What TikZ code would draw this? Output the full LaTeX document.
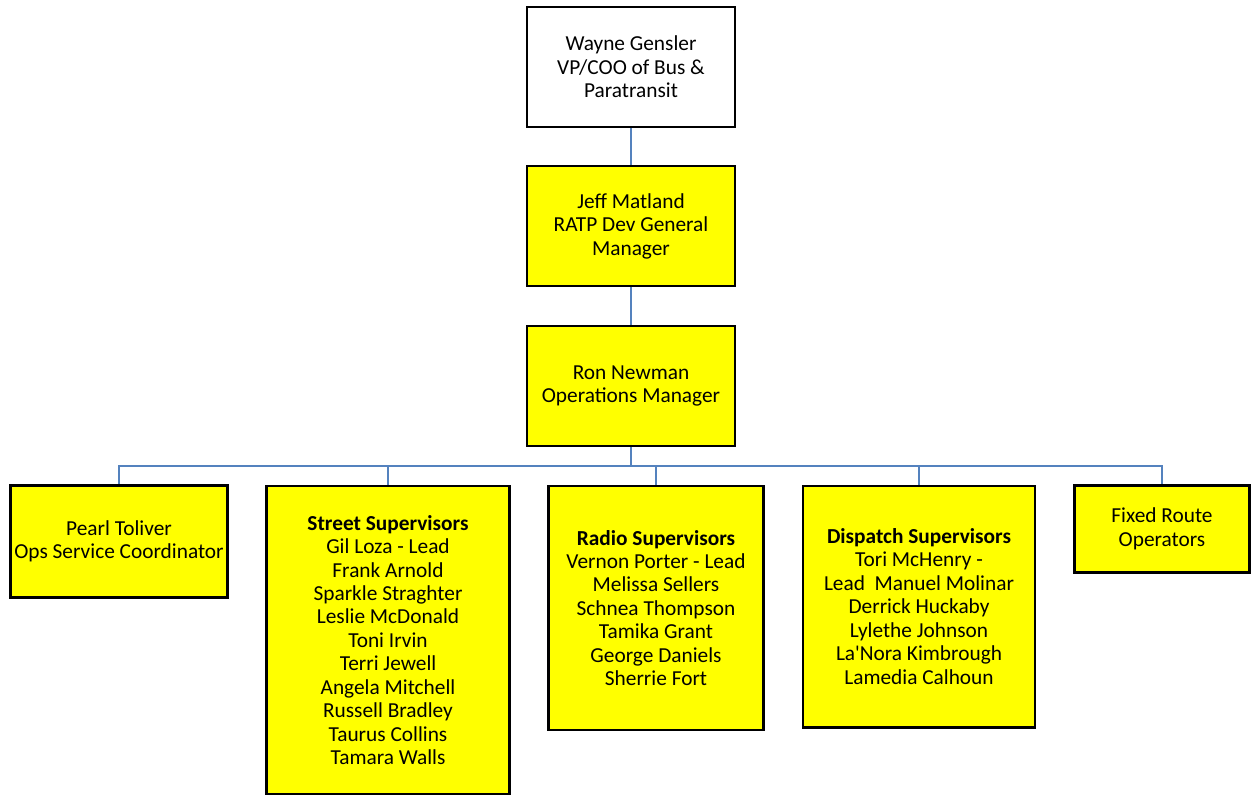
\documentclass[tikz,border=0pt]{standalone}
\usepackage{fontspec}
\setmainfont{Carlito}
\definecolor{linkblue}{RGB}{84,130,190}
\definecolor{boxyellow}{RGB}{255,255,0}
\begin{document}
\begin{tikzpicture}[
        x=0.75pt, y=-0.75pt,
        box/.style={draw, line width=2pt, fill=boxyellow, align=center, inner sep=0pt,
          font=\fontsize{16}{17.6}\selectfont},
        link/.style={draw=linkblue, line width=1.7pt}
      ]
      \useasboundingbox (0,0) rectangle (1252,796);
      % top of the chart
      \node[box, fill=white, minimum width=156pt, minimum height=90pt] (wayne) at (631,67) {Wayne Gensler\\VP/COO of Bus \&\\Paratransit};
      \node[box, minimum width=156pt, minimum height=90pt] (jeff) at (631,226) {Jeff Matland\\RATP Dev General\\Manager};
      \node[box, minimum width=156pt, minimum height=90pt] (ron) at (631,386) {Ron Newman\\Operations Manager};

      % teams
      \node[box, minimum width=163pt, minimum height=84pt] (pearl) at (119,541.5) {Pearl Toliver\\Ops Service Coordinator};
      \node[box, minimum width=182pt, minimum height=231pt] (street) at (388,640) {\textbf{Street Supervisors}\\Gil Loza - Lead\\Frank Arnold\\Sparkle Straghter\\Leslie McDonald\\Toni Irvin\\Terri Jewell\\Angela Mitchell\\Russell Bradley\\Taurus Collins\\Tamara Walls};
      \node[box, minimum width=161pt, minimum height=183pt] (radio) at (656,608) {\textbf{Radio Supervisors}\\Vernon Porter - Lead\\Melissa Sellers\\Schnea Thompson\\Tamika Grant\\George Daniels\\Sherrie Fort};
      \node[box, minimum width=174pt, minimum height=181pt] (dispatch) at (919,606.5) {\textbf{Dispatch Supervisors}\\Tori McHenry -\\Lead\ \ Manuel Molinar\\Derrick Huckaby\\Lylethe Johnson\\La\textquotesingle Nora Kimbrough\\Lamedia Calhoun};
      \node[box, minimum width=131pt, minimum height=65pt] (fixed) at (1162,529) {Fixed Route\\Operators};

      \coordinate (bus) at (631,466);

      \draw[link] (wayne) -- (jeff);
      \draw[link] (jeff) -- (ron);
      \draw[link] (ron) -- (bus);
      \draw[link] (bus) -| (pearl.north);
      \draw[link] (bus) -| (street.north);
      \draw[link] (bus) -| (radio.north);
      \draw[link] (bus) -| (dispatch.north);
      \draw[link] (bus) -| (fixed.north);
    \end{tikzpicture}
\end{document}
